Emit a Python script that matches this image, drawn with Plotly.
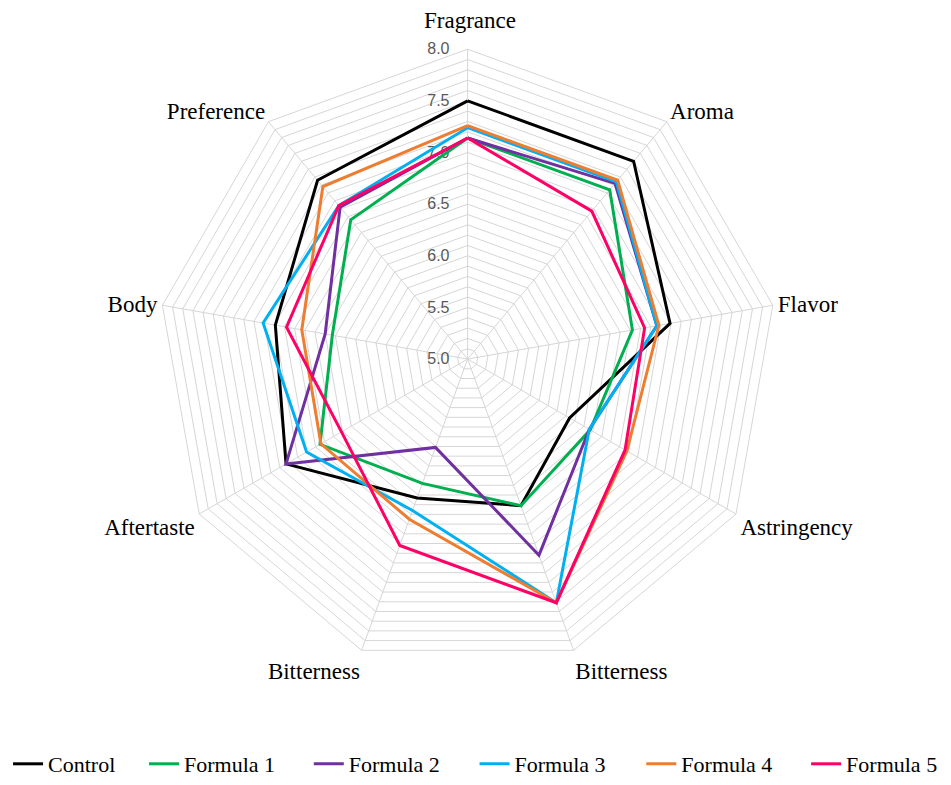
import numpy as np
import plotly.graph_objects as go

categories = ["Fragrance", "Aroma", "Flavor", "Astringency", "Bitterness",
              "Bitterness", "Aftertaste", "Body", "Preference"]

control  = [7.50, 7.50, 6.99, 6.14, 6.51, 6.43, 7.03, 6.89, 7.26]
formula1 = [7.14, 7.14, 6.62, 6.37, 6.51, 6.28, 6.65, 6.33, 6.76]
formula2 = [7.14, 7.22, 6.86, 6.36, 7.02, 5.91, 7.03, 6.40, 6.92]
formula3 = [7.24, 7.24, 6.86, 6.36, 7.51, 6.56, 6.80, 7.01, 6.94]
formula4 = [7.26, 7.26, 6.88, 6.78, 7.51, 6.65, 6.64, 6.63, 7.18]
formula5 = [7.14, 6.87, 6.74, 6.76, 7.51, 6.92, 6.41, 6.78, 6.94]

series_names = ["Control", "Formula 1", "Formula 2", "Formula 3", "Formula 4", "Formula 5"]
series_values = [control, formula1, formula2, formula3, formula4, formula5]
series_colors = ["#000000", "#00B050", "#7030A0", "#00B0F0", "#ED7D31", "#FF0066"]

tick_labels = ["5.0", "5.5", "6.0", "6.5", "7.0", "7.5", "8.0"]
r_min, r_max, grid_step = 5.0, 8.0, 0.1

# page body has an 8px margin: figure sized to fit the window
W, H = 943, 777
OFF = 8

def px(x):
    return (x - OFF) / W

def py(y):
    return 1 - (y - OFF) / H

# unique keys for duplicate category names (trailing spaces render invisibly)
keys = []
seen = {}
for c in categories:
    n = seen.get(c, 0)
    keys.append(c + " " * n)
    seen[c] = n + 1

legend_x = [1, 138, 304, 471, 639, 805]

fig = go.Figure()
for i, (name, vals, col) in enumerate(zip(series_names, series_values, series_colors)):
    lg = "legend" if i == 0 else f"legend{i+1}"
    fig.add_trace(go.Scatterpolar(
        r=vals + [vals[0]], theta=keys + [keys[0]], name=name,
        mode="lines", line=dict(color=col, width=3), legend=lg,
    ))

grid_vals = [round(v, 1) for v in np.arange(r_min, r_max + 1e-6, grid_step)]
grid_text = [f"{v:.1f}" if f"{v:.1f}" in tick_labels else "" for v in grid_vals]

grid_col = "#d6d6d6"
legend_font = dict(family="Liberation Serif", size=22, color="black")
layout_legends = {}
for i, lx in enumerate(legend_x):
    lg = "legend" if i == 0 else f"legend{i+1}"
    layout_legends[lg] = dict(
        orientation="h", x=px(lx), xanchor="left", y=py(779), yanchor="middle",
        font=legend_font, bgcolor="rgba(0,0,0,0)", itemwidth=30,
    )

fig.update_layout(
    width=W, height=H,
    paper_bgcolor="white", plot_bgcolor="white",
    margin=dict(l=0, r=0, t=0, b=0),
    polar=dict(
        domain=dict(x=[px(148), px(780)], y=[py(682), py(50)]),
        bgcolor="white",
        gridshape="linear",
        angularaxis=dict(
            type="category", categoryorder="array", categoryarray=keys,
            direction="clockwise", rotation=90,
            tickmode="array", tickvals=keys, ticktext=[""] + categories[1:],
            showgrid=True, gridcolor=grid_col, gridwidth=1,
            showline=True, linecolor=grid_col, linewidth=1,
            ticks="", tickfont=dict(family="Liberation Serif", size=23, color="black"),
        ),
        radialaxis=dict(
            range=[r_min, r_max], angle=90, side="counterclockwise",
            tickmode="array", tickvals=grid_vals, ticktext=grid_text,
            showgrid=True, gridcolor=grid_col, gridwidth=1,
            showline=False, ticks="outside", ticklen=12, tickcolor="rgba(0,0,0,0)",
            layer="below traces",
            tickangle=90,
            tickfont=dict(family="Liberation Sans", size=16, color="#595959"),
        ),
    ),
    annotations=[dict(
        text=categories[0], x=px(466), y=py(21), xref="paper", yref="paper",
        xanchor="center", yanchor="middle", showarrow=False,
        font=dict(family="Liberation Serif", size=23, color="black"),
    )],
    showlegend=True,
    **layout_legends,
)

fig.write_html("out.html")
